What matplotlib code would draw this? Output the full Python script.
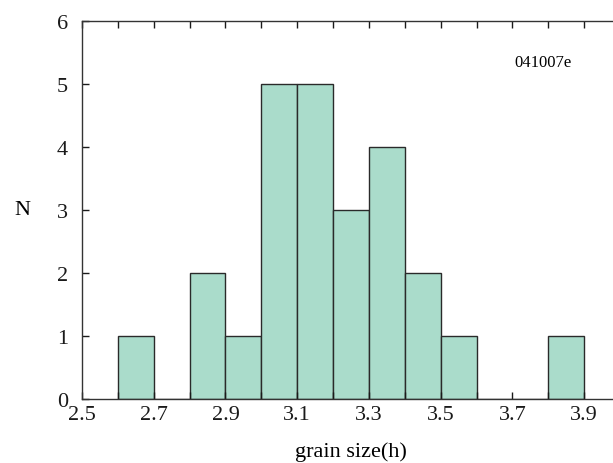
import numpy as np
import matplotlib

matplotlib.use('Agg')
import matplotlib.pyplot as plt

# histogram of grain sizes, bin width 0.1
bin_edges = [2.6, 2.7, 2.8, 2.9, 3.0, 3.1, 3.2, 3.3, 3.4, 3.5, 3.6, 3.7, 3.8, 3.9]
counts = [1, 0, 2, 1, 5, 5, 3, 4, 2, 1, 0, 0, 1]
x_labels = [2.5, 2.7, 2.9, 3.1, 3.3, 3.5, 3.7, 3.9]
sample_id = '041007e'

plt.rcParams['font.family'] = ['Liberation Serif', 'DejaVu Serif']

fig = plt.figure(figsize=(6.13, 4.64), dpi=100)
ax = fig.add_axes([82 / 613, 64 / 464, 538 / 613, 378 / 464])

widths = np.diff(bin_edges)
ax.bar(bin_edges[:-1], counts, width=widths, align='edge',
       color='#aadccb', edgecolor='#2a2a2a', linewidth=1.0)

ax.set_xlim(2.5, 4.0)
ax.set_ylim(0, 6)
ax.set_xticks(x_labels)
ax.set_xticklabels(['%.1f' % v for v in x_labels])
ax.set_xticks(np.arange(2.6, 4.0, 0.2), minor=True)
ax.set_yticks(range(0, 7))

ax.tick_params(which='both', direction='in', top=True, right=True,
               length=5, width=1, labelsize=16, colors='#1a1a1a')
ax.tick_params(axis='x', pad=4)
ax.tick_params(axis='y', pad=10)
for s in ax.spines.values():
    s.set_color('#333333')
    s.set_linewidth(1.0)

ax.set_xlabel('grain size(h)', fontsize=16, labelpad=13)
ax.set_ylabel('N', fontsize=16, rotation=0, labelpad=25, va='center')

ax.text(3.786, 5.35, sample_id, fontsize=12, ha='center', va='center')

fig.savefig('out.png', dpi=100)
